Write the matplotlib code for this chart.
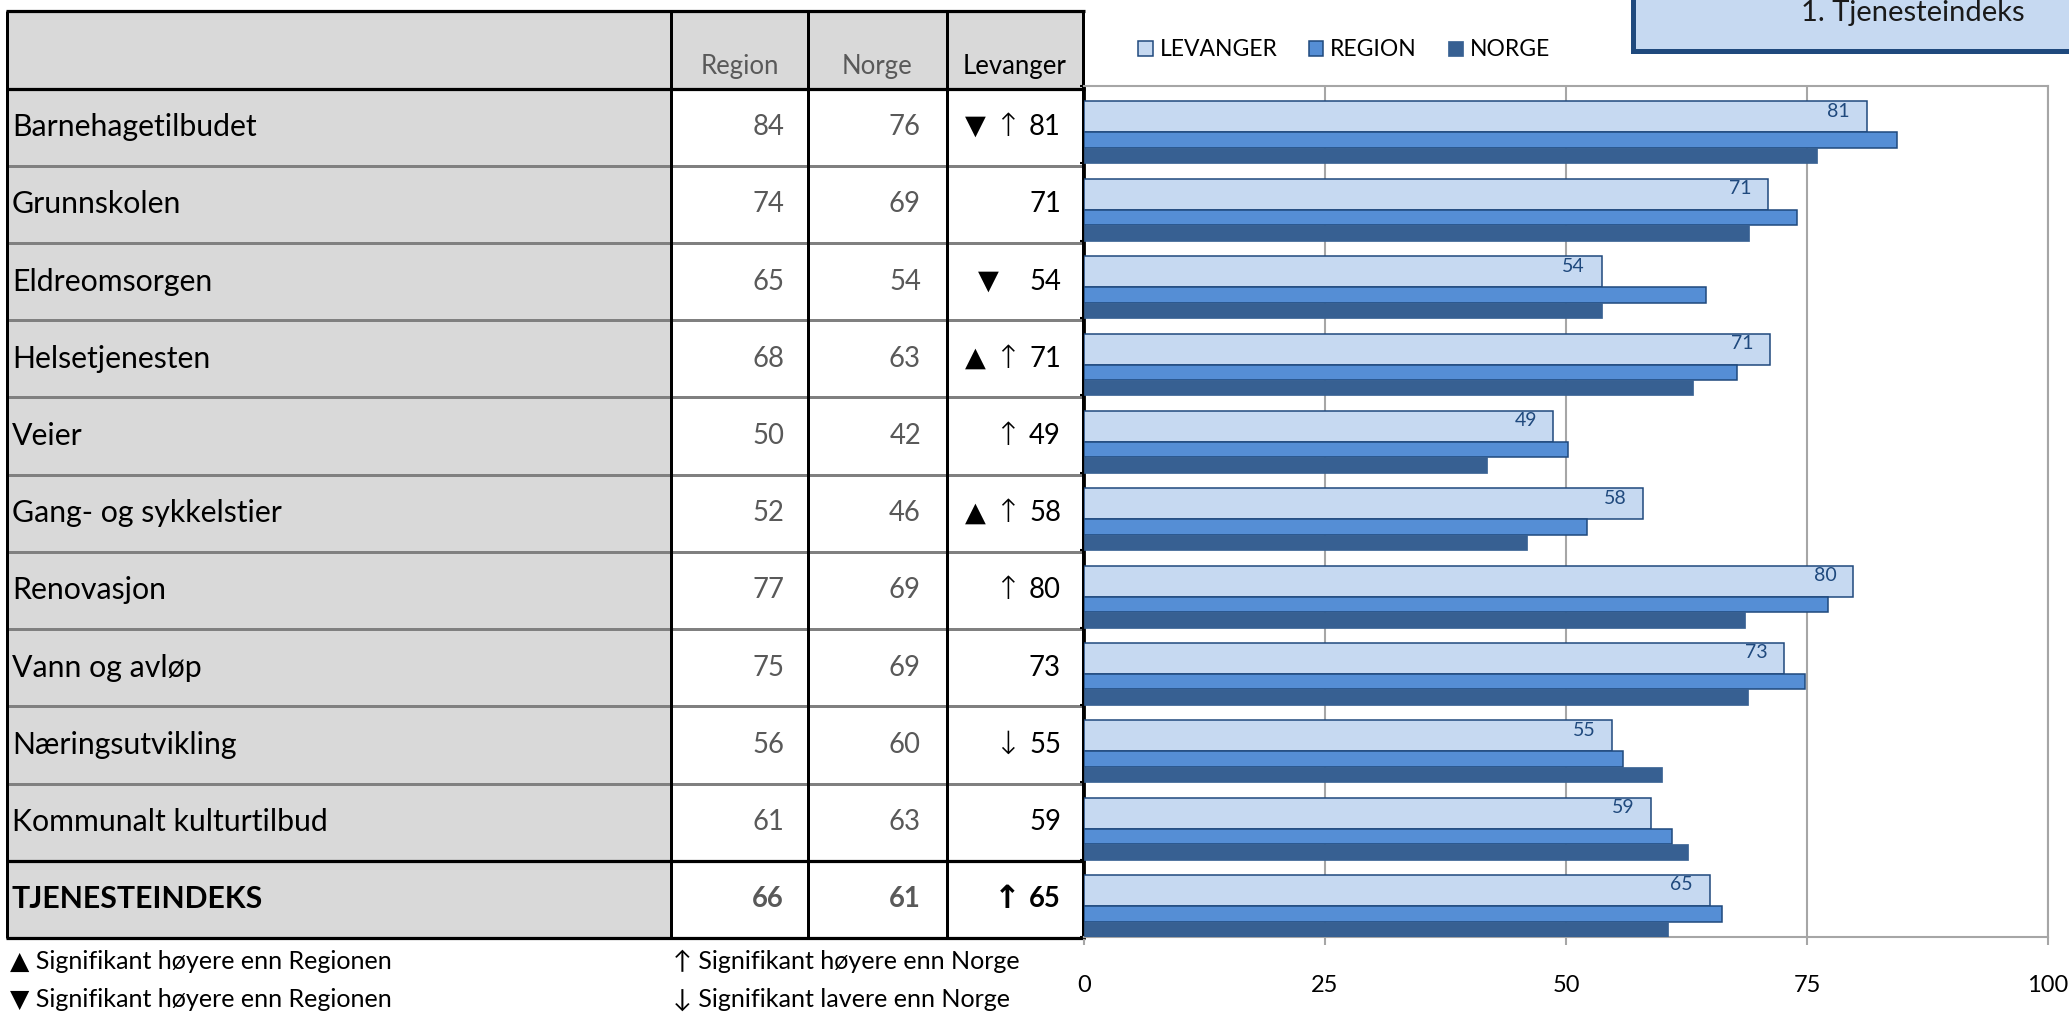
import matplotlib
matplotlib.use("Agg")
import matplotlib.pyplot as plt
from matplotlib.patches import Rectangle, Patch

plt.rcParams['font.family'] = ['Lato', 'DejaVu Sans']

# ---------------- data ----------------
categories = ["Barnehagetilbudet", "Grunnskolen", "Eldreomsorgen", "Helsetjenesten",
              "Veier", "Gang- og sykkelstier", "Renovasjon", "Vann og avløp",
              "Næringsutvikling", "Kommunalt kulturtilbud", "TJENESTEINDEKS"]
region_tab = [84, 74, 65, 68, 50, 52, 77, 75, 56, 61, 66]
norge_tab = [76, 69, 54, 63, 42, 46, 69, 69, 60, 63, 61]
levanger_tab = [81, 71, 54, 71, 49, 58, 80, 73, 55, 59, 65]
sig_region = ["▼", "", "▼", "▲", "", "▲", "", "", "", "", ""]
sig_norge = ["↑", "", "", "↑", "↑", "↑", "↑", "", "↓", "", "↑"]

levanger_bar = [81.2, 71.0, 53.7, 71.2, 48.7, 58.0, 79.8, 72.6, 54.8, 58.8, 64.9]
region_bar = [84.3, 74.0, 64.5, 67.7, 50.2, 52.2, 77.2, 74.8, 55.9, 61.0, 66.2]
norge_bar = [76.0, 69.0, 53.7, 63.2, 41.8, 46.0, 68.6, 68.9, 60.0, 62.7, 60.6]

col_headers = ["Region", "Norge", "Levanger"]
series_names = ["LEVANGER", "REGION", "NORGE"]
x_ticks = [0, 25, 50, 75, 100]
box_title = "1. Tjenesteindeks"
footnotes_left = ["▲ Signifikant høyere enn Regionen", "▼ Signifikant høyere enn Regionen"]
footnotes_right = ["↑ Signifikant høyere enn Norge", "↓ Signifikant lavere enn Norge"]

# ---------------- style ----------------
C_LEV = "#C6D9F1"
C_REG = "#558ED5"
C_NOR = "#376092"
C_EDGE = "#1F497D"
C_GRAY_TXT = "#595959"
C_FILL = "#D9D9D9"

W, H = 2069, 1013
fig = plt.figure(figsize=(W / 100, H / 100), dpi=100)

# overlay axes in pixel coordinates for the table
ov = fig.add_axes([0, 0, 1, 1])
ov.set_xlim(0, W)
ov.set_ylim(H, 0)
ov.axis("off")

px2pt = 0.72
x0, xl, xr, xn, xv = 7, 671, 808, 947, 1083
ytop, yhead = 11, 88.5
ybot = 938
n = len(categories)
rh = (ybot - yhead) / n

# fills
ov.add_patch(Rectangle((x0, ytop), xv - x0, yhead - ytop, facecolor=C_FILL, edgecolor="none", zorder=1))
ov.add_patch(Rectangle((x0, yhead), xl - x0, ybot - yhead, facecolor=C_FILL, edgecolor="none", zorder=1))

# horizontal row separators (gray)
for i in range(1, n - 1):
    y = yhead + i * rh
    ov.plot([x0, xv], [y, y], color="#808080", lw=3 * px2pt, zorder=2, solid_capstyle="butt")
# black lines
for y in [ytop, yhead, yhead + (n - 1) * rh, ybot]:
    ov.plot([x0 - 1.5, xv + 1.5], [y, y], color="black", lw=3.2 * px2pt, zorder=3, solid_capstyle="butt")
for x in [x0, xl, xr, xn, xv]:
    ov.plot([x, x], [ytop, ybot], color="black", lw=3 * px2pt, zorder=3, solid_capstyle="butt")

# header texts
fs_lab = 21.8
fs_val = 19.8
for j, (h, xc) in enumerate(zip(col_headers, [(xl + xr) / 2, (xr + xn) / 2, (xn + xv) / 2])):
    ov.text(xc, 66, h, ha="center", va="center", fontsize=18.5,
            color=("black" if j == 2 else C_GRAY_TXT), zorder=4)

# rows
for i, cat in enumerate(categories):
    yc = yhead + (i + 0.5) * rh
    bold = (i == n - 1)
    fw = "bold" if bold else "normal"
    ov.text(x0 + 5, yc, cat, ha="left", va="center", fontsize=fs_lab, fontweight=fw, color="black", zorder=4)
    ov.text(xr - 24, yc, str(region_tab[i]), ha="right", va="center", fontsize=fs_val,
            fontweight=fw, color=C_GRAY_TXT, zorder=4)
    ov.text(xn - 26, yc, str(norge_tab[i]), ha="right", va="center", fontsize=fs_val,
            fontweight=fw, color=C_GRAY_TXT, zorder=4)
    ov.text(xv - 22, yc, str(levanger_tab[i]), ha="right", va="center", fontsize=fs_val,
            fontweight=fw, color="black", zorder=4)
    if sig_norge[i]:
        ov.text(1007, yc, sig_norge[i], ha="center", va="center", fontsize=23,
                fontweight=("bold" if bold else "light"), color="black",
                family=["DejaVu Sans"], zorder=4)
    if sig_region[i]:
        xt = 975 if sig_norge[i] else 988
        ov.text(xt, yc, sig_region[i], ha="center", va="center", fontsize=19.5,
                color="black", family=["DejaVu Sans"], zorder=4)

# footnotes
for k, t in enumerate(footnotes_left):
    ov.text(10, 961 + 38 * k, t, ha="left", va="center", fontsize=18.1, color="black")
for k, t in enumerate(footnotes_right):
    ov.text(673, 961 + 38 * k, t, ha="left", va="center", fontsize=18.1, color="black")

# top-right box
ov.add_patch(Rectangle((1633, -20), 500, 71, facecolor=C_LEV, edgecolor=C_EDGE, lw=5 * px2pt, zorder=2))
ov.text(2025, 13, box_title, ha="right", va="center", fontsize=21, color="#1a1a1a", zorder=4)

# ---------------- chart ----------------
ax_l, ax_r, ax_t, ax_b = 1084, 2048, 86, 937
ax = fig.add_axes([ax_l / W, 1 - ax_b / H, (ax_r - ax_l) / W, (ax_b - ax_t) / H])
ax.set_xlim(0, 100)
ax.set_ylim(n, 0)
ax.patch.set_alpha(0)

ypos = list(range(n))
ax.barh([y + 0.2 for y in ypos], levanger_bar, height=0.4, align="edge",
        color=C_LEV, edgecolor=C_EDGE, lw=1.1, zorder=3, label=series_names[0])
ax.barh([y + 0.6 for y in ypos], region_bar, height=0.2, align="edge",
        color=C_REG, edgecolor=C_EDGE, lw=1.1, zorder=3, label=series_names[1])
ax.barh([y + 0.8 for y in ypos], norge_bar, height=0.2, align="edge",
        color=C_NOR, edgecolor=C_NOR, lw=0.5, zorder=3, label=series_names[2])

for y, v, lab in zip(ypos, levanger_bar, levanger_tab):
    ax.annotate(str(lab), xy=(v, y + 0.2), xytext=(-12, -1), textcoords="offset points",
                ha="right", va="top", fontsize=14, color=C_EDGE, zorder=4)

ax.set_xticks(x_ticks)
ax.set_xticklabels([str(t) for t in x_ticks], fontsize=17)
ax.tick_params(axis="x", direction="out", length=6, width=1.5, color="#A6A6A6", pad=21)
ax.set_yticks(range(n + 1))
ax.set_yticklabels([])
ax.tick_params(axis="y", direction="out", length=3, width=1.5, color="black")
ax.grid(axis="x", color="#A6A6A6", lw=1.5, zorder=0)
ax.set_axisbelow(True)
for s in ["top", "bottom", "right"]:
    ax.spines[s].set_color("#A6A6A6")
    ax.spines[s].set_linewidth(1.5)
ax.spines["left"].set_color("black")
ax.spines["left"].set_linewidth(2)

handles = [Patch(facecolor=C_LEV, edgecolor=C_EDGE, lw=1.1),
           Patch(facecolor=C_REG, edgecolor=C_EDGE, lw=1.1),
           Patch(facecolor=C_NOR, edgecolor=C_NOR, lw=0.5)]
fig.legend(handles, series_names, loc="center left", bbox_to_anchor=(1138 / W, 1 - 50 / H),
           ncol=3, frameon=False, fontsize=16.5, handlelength=0.65, handleheight=0.65,
           handletextpad=0.3, columnspacing=1.35, borderpad=0, borderaxespad=0)

fig.savefig("out.png", dpi=100)
